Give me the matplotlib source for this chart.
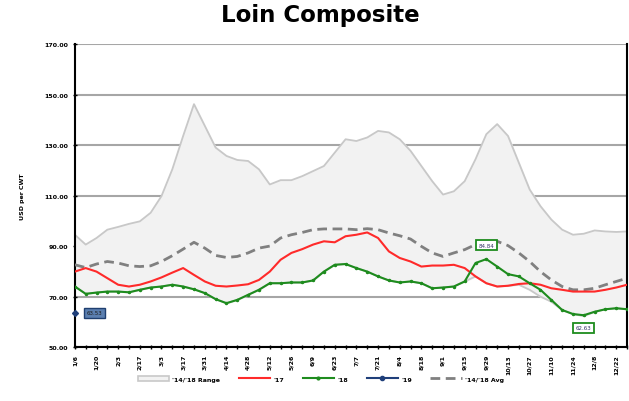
import numpy as np
import matplotlib
matplotlib.use("Agg")
import matplotlib.pyplot as plt
from matplotlib.patches import Patch
from matplotlib.lines import Line2D

# weekly dates, labels every other week
week_labels = ['1/6', '1/20', '2/3', '2/17', '3/3', '3/17', '3/31', '4/14', '4/28',
               '5/12', '5/26', '6/9', '6/23', '7/7', '7/21', '8/4', '8/18', '9/1',
               '9/15', '9/29', '10/13', '10/27', '11/10', '11/24', '12/8', '12/22']

range_high = [94.5, 90.6, 93.2, 96.5, 97.6, 98.8, 99.8, 103.2, 109.8, 120.4,
              133.6, 146.2, 137.6, 129.0, 125.7, 124.1, 123.7, 120.4, 114.4, 116.1,
              116.1, 117.7, 119.7, 121.7, 127.0, 132.3, 131.6, 133.0, 135.6, 135.0,
              132.3, 127.7, 121.7, 115.7, 110.4, 111.7, 115.7, 124.4, 134.3, 138.3,
              133.6, 123.0, 112.4, 105.8, 100.5, 96.5, 94.5, 94.9, 96.2, 95.8,
              95.6, 95.8]
range_low = [74.0, 71.1, 71.6, 72.0, 72.0, 71.7, 72.7, 73.6, 74.0, 74.7,
             74.0, 72.9, 71.4, 69.0, 67.4, 68.7, 70.7, 72.7, 75.3, 75.3,
             75.6, 75.6, 76.4, 79.9, 82.6, 82.9, 81.3, 79.9, 78.0, 76.4,
             75.6, 76.0, 75.3, 73.3, 73.6, 74.0, 76.0, 78.0, 75.3, 74.0,
             74.3, 74.7, 72.7, 70.0, 68.0, 64.7, 63.1, 62.3, 64.0, 65.0,
             65.4, 65.0]
y2017 = [79.9, 81.3, 79.9, 77.3, 74.7, 74.0, 74.7, 76.0, 77.6, 79.5,
         81.3, 78.6, 76.0, 74.3, 74.0, 74.4, 74.9, 76.6, 79.9, 84.6,
         87.3, 88.8, 90.6, 91.9, 91.5, 93.9, 94.5, 95.4, 93.2, 87.9,
         85.3, 83.9, 81.9, 82.3, 82.3, 82.6, 81.3, 78.0, 75.3, 74.0,
         74.3, 75.0, 75.3, 74.7, 73.3, 72.7, 72.0, 72.0, 72.0, 72.7,
         73.6, 74.7]
y2018 = [74.0, 71.1, 71.6, 72.0, 72.0, 71.7, 72.7, 73.6, 74.0, 74.7,
         74.0, 72.9, 71.4, 69.0, 67.4, 68.7, 70.7, 72.7, 75.3, 75.3,
         75.6, 75.6, 76.4, 79.9, 82.6, 82.9, 81.3, 79.9, 78.0, 76.4,
         75.6, 76.0, 75.3, 73.3, 73.6, 74.0, 76.0, 83.3, 84.84, 81.9,
         78.9, 78.0, 75.3, 72.7, 68.7, 64.7, 63.1, 62.63, 64.0, 65.0,
         65.4, 65.0]
y2019 = [63.53]
avg_14_18 = [82.6, 81.5, 82.9, 83.9, 83.3, 82.2, 81.9, 82.2, 83.9, 86.2,
             88.8, 91.5, 89.2, 86.3, 85.5, 85.9, 87.3, 89.2, 90.0, 93.2,
             94.5, 95.4, 96.5, 96.8, 96.8, 96.8, 96.5, 96.9, 96.5, 95.2,
             94.1, 92.8, 89.9, 87.3, 85.9, 87.3, 88.6, 90.6, 91.9, 91.9,
             90.2, 87.3, 83.9, 79.9, 76.6, 74.0, 72.7, 72.7, 73.3, 74.7,
             76.0, 77.3]

weeks = np.arange(len(range_high))

fig = plt.figure(figsize=(6.29, 4.02), dpi=100)
ax = fig.add_axes([0.119, 0.134, 0.878, 0.754])

ax.fill_between(weeks, range_low, range_high, color='#f2f2f2', zorder=1)
ax.plot(weeks, range_high, color='#c8c8c8', lw=1.3, zorder=2)
ax.plot(weeks, range_low, color='#c8c8c8', lw=1.3, zorder=2)
ax.plot(weeks, avg_14_18, color='#808080', lw=2, dashes=(3.5, 2), zorder=3)
ax.plot(weeks, y2017, color='#ff2a2a', lw=1.5, zorder=4)
ax.plot(weeks, y2018, color='#1e8c1e', lw=1.5, marker='o', ms=1.5, zorder=5)
ax.plot(range(len(y2019)), y2019, color='#1f3f7a', lw=1.5, marker='D', ms=3,
        zorder=6, clip_on=False)

# data labels
ax.annotate(f'{y2019[0]:.2f}', (0, y2019[0]), xytext=(14, 0), textcoords='offset points',
            ha='center', va='center', fontsize=4, color='#1a1a1a',
            bbox=dict(boxstyle='square,pad=0.45', fc='#5b7fb0', ec='#1f3f70', lw=1))
i18 = 38
ax.annotate(f'{y2018[i18]:.2f}', (i18, y2018[i18]), xytext=(0, 10), textcoords='offset points',
            ha='center', va='center', fontsize=4, color='#333366',
            bbox=dict(boxstyle='square,pad=0.45', fc='white', ec='#1e8c1e', lw=1.3))
i18 = 47
ax.annotate(f'{y2018[i18]:.2f}', (i18, y2018[i18]), xytext=(0, -9), textcoords='offset points',
            ha='center', va='center', fontsize=4, color='#333366',
            bbox=dict(boxstyle='square,pad=0.45', fc='white', ec='#1e8c1e', lw=1.3))

ax.set_xlim(0, len(weeks) - 1)
ax.set_ylim(50, 170)
ax.set_yticks(np.arange(50, 171, 20))
ax.set_yticklabels([f'{v:.2f}' for v in range(50, 171, 20)], fontsize=4.5,
                   fontweight='bold')
ax.set_xticks(weeks[::2])
ax.set_xticks(weeks, minor=True)
ax.set_xticklabels(week_labels, rotation=90, fontsize=4.5, fontweight='bold')
ax.tick_params(axis='both', which='both', length=3, width=1, direction='inout')
ax.grid(axis='y', color='#a6a6a6', lw=1.5, zorder=0)
ax.set_axisbelow(True)

ax.spines['top'].set_visible(False)
ax.spines['left'].set_linewidth(1.5)
ax.spines['bottom'].set_linewidth(1.5)
ax.spines['right'].set_linewidth(1.5)

ax.set_ylabel('USD per CWT', fontsize=4.5, fontweight='bold', labelpad=14)
fig.suptitle('Loin Composite', fontsize=16.5, fontweight='bold', x=0.51, y=0.99)

handles = [Patch(facecolor='#f2f2f2', edgecolor='#c8c8c8', lw=1.2),
           Line2D([], [], color='#ff2a2a', lw=1.5),
           Line2D([], [], color='#1e8c1e', lw=1.5, marker='o', ms=2),
           Line2D([], [], color='#1f3f7a', lw=1.5, marker='o', ms=3),
           Line2D([], [], color='#808080', lw=2, dashes=(3.5, 2))]
labels = ["'14/'18 Range", "'17", "'18", "'19", "'14/'18 Avg"]
fig.legend(handles, labels, loc='center', bbox_to_anchor=(0.51, 0.055), ncol=5,
           frameon=False, prop={'size': 4.5, 'weight': 'bold'},
           handlelength=5, columnspacing=3, handletextpad=0.5)

fig.savefig('out.png', dpi=100)
